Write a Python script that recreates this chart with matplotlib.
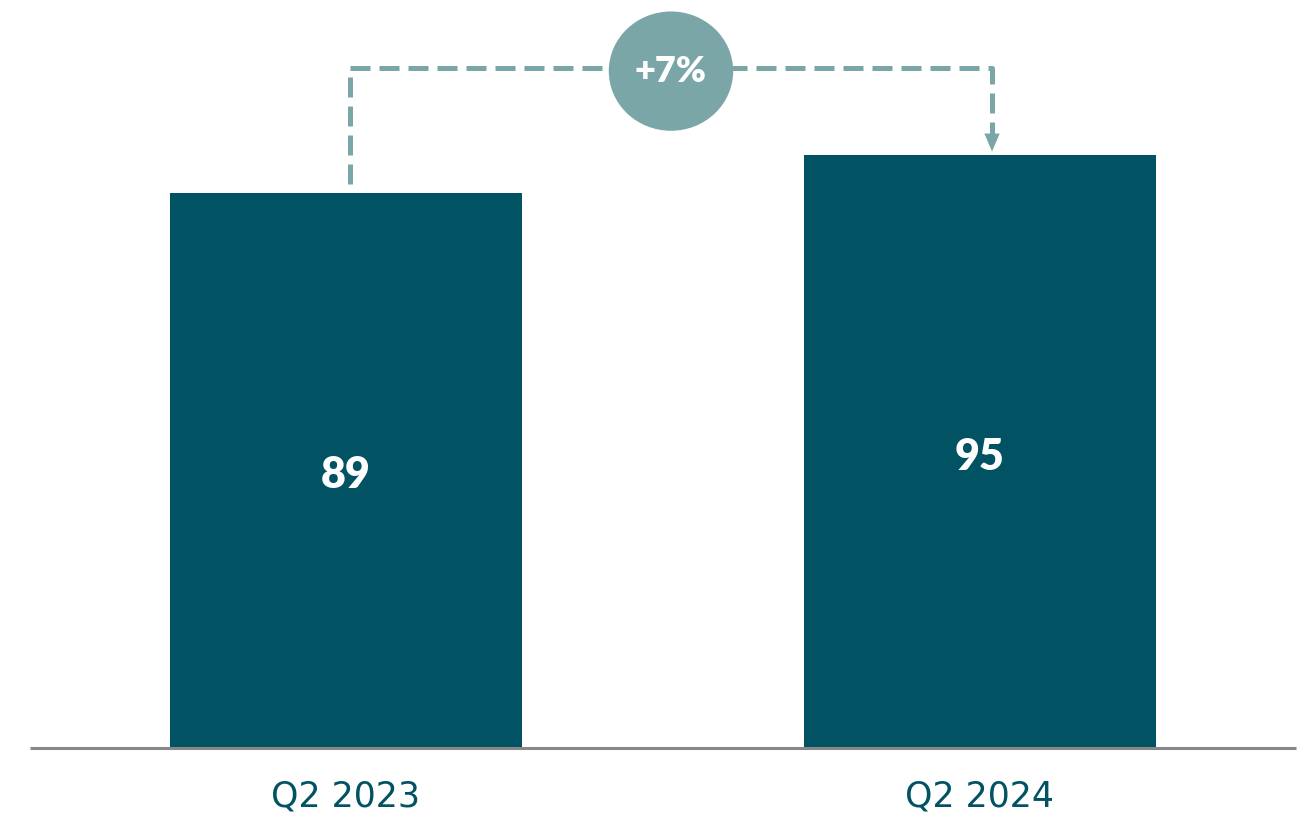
import matplotlib.pyplot as plt
from matplotlib.patches import Ellipse

# Data
categories = ['Q2 2023', 'Q2 2024']
values = [89, 95]
change_label = '+7%'

bar_color = '#015262'
dash_color = '#7aa6a8'
axis_color = '#888888'

fig = plt.figure(figsize=(13.1, 8.16), dpi=100)
ax = fig.add_axes([0, 68 / 816, 1, 748 / 816])

x = list(range(len(categories)))
ax.bar(x, values, width=0.555, color=bar_color, zorder=2)

ax.set_xlim(-0.5457, 1.5205)
ax.set_ylim(0, 119.9)
ax.axis('off')

# baseline
ax.plot([-0.498, 1.498], [0, 0], color=axis_color, linewidth=2.2, zorder=3,
        solid_capstyle='butt', clip_on=False)

# value labels inside bars
for xi, v in zip(x, values):
    ax.text(xi, v / 2 - 0.8, str(v), ha='center', va='center', color='white',
            fontsize=31, fontweight='heavy', family='Lato')

# category labels below axis
for xi, c in zip(x, categories):
    ax.text(xi, -7.8, c, ha='center', va='center', color=bar_color,
            fontsize=25, family='DejaVu Sans', clip_on=False)

# connector between bars
level = 109
x_left = x[0] + 0.006
x_right = x[1] + 0.019
ax.plot([x_left, x_left, x_right, x_right],
        [values[0] + 1.4, level, level, values[1] + 3.5],
        color=dash_color, linewidth=3.6, dashes=(4, 1.8), zorder=1)
ax.annotate('', xy=(x_right, values[1] + 0.6), xytext=(x_right, values[1] + 3.6),
            arrowprops=dict(arrowstyle='-|>,head_width=0.55,head_length=1.3',
                            color=dash_color, lw=0, shrinkA=0, shrinkB=0))

ell = Ellipse((0.5126, 108.5), 0.194, 18.9, color=dash_color, zorder=4)
ax.add_patch(ell)
ax.text(0.5126, 108.5, change_label, ha='center', va='center', color='white',
        fontsize=26, fontweight='heavy', family='Lato', zorder=5)

fig.savefig('out.png', dpi=100)
